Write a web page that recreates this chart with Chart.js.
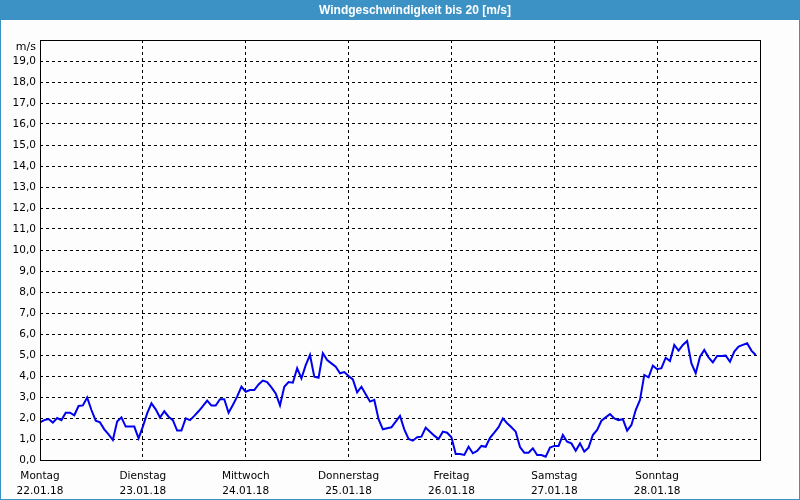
<!DOCTYPE html>
<html>
<head>
<meta charset="utf-8">
<script src="https://cdn.jsdelivr.net/npm/chart.js@4"></script>
<style>
html,body{margin:0;padding:0;background:#fcfdfc;}
canvas{display:block;}
</style>
</head>
<body>
<canvas id="c" width="800" height="500"></canvas>
<script>
const chartTitle = "Windgeschwindigkeit bis 20 [m/s]";
const unitLabel = "m/s";
const dayNames = ["Montag","Dienstag","Mittwoch","Donnerstag","Freitag","Samstag","Sonntag"];
const dayDates = ["22.01.18","23.01.18","24.01.18","25.01.18","26.01.18","27.01.18","28.01.18"];
// hourly wind speed, m/s, starting Monday 00:00
const windSpeed = [
 1.79,1.9,1.95,1.78,2.0,1.9,2.25,2.25,2.13,2.57,
 2.6,2.98,2.38,1.87,1.79,1.46,1.22,0.95,1.83,2.03,
 1.59,1.59,1.59,1.03,1.59,2.22,2.7,2.41,2.02,2.32,
 2.06,1.9,1.4,1.4,1.98,1.9,2.1,2.32,2.57,2.83,
 2.59,2.59,2.89,2.89,2.25,2.62,3.02,3.49,3.25,3.33,
 3.33,3.6,3.78,3.71,3.46,3.17,2.6,3.49,3.71,3.68,
 4.37,3.89,4.52,5.0,3.97,3.92,5.08,4.76,4.6,4.44,
 4.13,4.19,4.0,3.84,3.22,3.49,3.13,2.78,2.86,1.94,
 1.46,1.51,1.56,1.83,2.1,1.46,1.0,0.92,1.08,1.11,
 1.54,1.35,1.16,1.0,1.35,1.3,1.08,0.29,0.29,0.24,
 0.63,0.32,0.43,0.67,0.63,1.06,1.3,1.56,1.98,1.75,
 1.56,1.35,0.62,0.35,0.35,0.56,0.24,0.24,0.16,0.59,
 0.67,0.67,1.19,0.87,0.79,0.44,0.79,0.4,0.59,1.19,
 1.43,1.87,2.03,2.19,1.98,1.9,1.94,1.4,1.67,2.38,
 2.86,4.05,3.94,4.49,4.32,4.37,4.87,4.71,5.48,5.21,
 5.48,5.67,4.6,4.13,4.92,5.24,4.89,4.65,4.95,4.95,
 4.97,4.68,5.16,5.4,5.48,5.56,5.21,5.0
];
const hours = windSpeed.map((v,i)=>i);
const yMax = 20;
const xMax = 168;

const BLUE = '#3c92c4';
const frame = {
  id:'frame',
  beforeDraw(chart){
    const ctx = chart.ctx, W = chart.width, H = chart.height;
    ctx.save();
    ctx.fillStyle = '#fcfdfc';
    ctx.fillRect(0,0,W,H);
    ctx.fillStyle = BLUE;
    ctx.fillRect(0,0,W,20);
    ctx.strokeStyle = BLUE;
    ctx.lineWidth = 1;
    ctx.strokeRect(0.5,0.5,W-1,H-1);
    ctx.fillStyle = '#ffffff';
    ctx.font = 'bold 12px "Liberation Sans", Arial, sans-serif';
    ctx.textAlign = 'center';
    ctx.textBaseline = 'middle';
    ctx.fillText(chartTitle, 415, 10.5);
    ctx.restore();
  },
  afterDraw(chart){
    const ctx = chart.ctx, a = chart.chartArea;
    ctx.save();
    ctx.setLineDash([]);
    ctx.strokeStyle = '#000';
    ctx.lineWidth = 1;
    ctx.strokeRect(Math.round(a.left)+0.5, Math.round(a.top)+0.5, Math.round(a.right-a.left), Math.round(a.bottom-a.top));
    ctx.fillStyle = '#000';
    ctx.font = '11px "DejaVu Sans", sans-serif';
    ctx.textAlign = 'right';
    ctx.textBaseline = 'middle';
    ctx.fillText(unitLabel, a.left-4, a.top+7);
    ctx.restore();
  }
};

new Chart(document.getElementById('c'), {
  type:'line',
  data:{
    labels: hours,
    datasets:[{
      data: windSpeed,
      borderColor:'#0000f0',
      borderWidth:2,
      pointRadius:0,
      tension:0,
      fill:false
    }]
  },
  options:{
    responsive:false,
    animation:false,
    layout:{padding:{top:40,right:40,left:0,bottom:0}},
    plugins:{legend:{display:false},tooltip:{enabled:false},title:{display:false}},
    scales:{
      x:{
        type:'linear', min:0, max:xMax,
        afterFit(s){ s.height = 40; },
        grid:{drawTicks:false, color:(c)=> (c.tick && (c.tick.value===0 || c.tick.value===xMax)) ? 'rgba(0,0,0,0)' : '#000', lineWidth:1},
        border:{display:false, dash:[3,3]},
        ticks:{
          stepSize:24, autoSkip:false, maxRotation:0, padding:9,
          color:'#000',
          font:{family:'"DejaVu Sans", sans-serif', size:10.5, lineHeight:'15px'},
          callback:(v)=>{ const d = v/24; return (Number.isInteger(d) && d < dayNames.length) ? [dayNames[d], dayDates[d]] : ''; }
        }
      },
      y:{
        min:0, max:yMax,
        afterFit(s){ s.width = 40; },
        grid:{drawTicks:false, color:(c)=> (c.tick && (c.tick.value===0 || c.tick.value===yMax)) ? 'rgba(0,0,0,0)' : '#000', lineWidth:1},
        border:{display:false, dash:[3,3]},
        ticks:{
          stepSize:1, autoSkip:false, padding:4, color:'#000',
          font:{family:'"DejaVu Sans", sans-serif', size:10.5},
          callback:(v)=> v===yMax ? '' : v.toFixed(1).replace('.',',')
        }
      }
    }
  },
  plugins:[frame]
});
</script>
</body>
</html>
